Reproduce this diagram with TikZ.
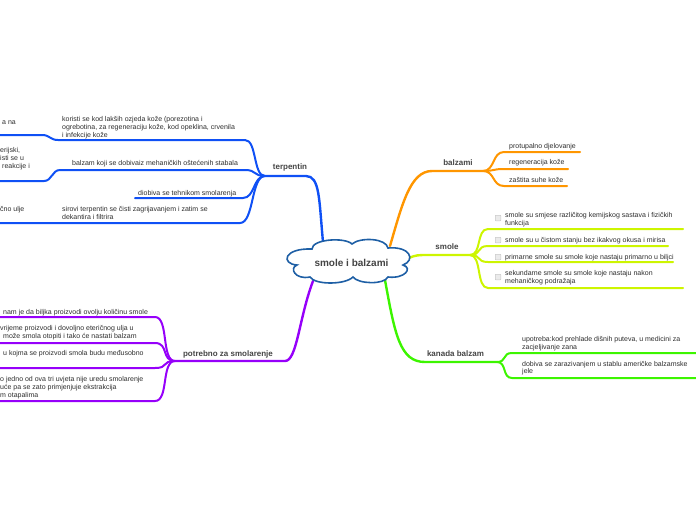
\documentclass[tikz,border=0pt]{standalone}
\usepackage{fontspec}
\setmainfont{Liberation Sans}
\definecolor{cblue}{RGB}{15,80,245}
\definecolor{cpurple}{RGB}{150,0,250}
\definecolor{corange}{RGB}{255,150,0}
\definecolor{cyellow}{RGB}{205,245,0}
\definecolor{cgreen}{RGB}{60,245,0}
\definecolor{ccloud}{RGB}{30,95,165}
\definecolor{ctext}{RGB}{45,45,45}
\definecolor{ctopic}{RGB}{68,68,68}
\begin{document}
\begin{tikzpicture}[x=1pt,y=-1pt,
  leaf/.style={font=\fontsize{7}{7.8}\selectfont, text=ctext, inner sep=0pt, anchor=base west, align=left},
  topic/.style={font=\bfseries\fontsize{8}{9.6}\selectfont, text=ctopic, inner sep=0pt, anchor=base},
  mainline/.style={line width=2.4pt, line cap=round},
  subline/.style={line width=2pt, line cap=round},
  cbox/.style={draw=black!22, fill=black!8, line width=0.5pt, minimum size=5.5pt, inner sep=0pt, rounded corners=0.5pt}
]
\useasboundingbox (0,0) rectangle (696,520);
\clip (0,0) rectangle (696,520);

% ---------- coordinates ----------
\coordinate (tA) at (323,242);
\coordinate (tE) at (306,176);
\coordinate (tJ) at (265,176);
\coordinate (pA) at (313,281);
\coordinate (pE) at (285,361);
\coordinate (pJ) at (175,361);
\coordinate (bA) at (390,246);
\coordinate (bE) at (432,171);
\coordinate (bJ) at (483,171);
\coordinate (sA) at (409,258);
\coordinate (sE) at (428,255);
\coordinate (sJ) at (470,255);
\coordinate (kA) at (385,280);
\coordinate (kE) at (425,362);
\coordinate (kJ) at (497,362);

% ---------- terpentin ----------
\draw[cblue, mainline] (tA) .. controls (319,200) and (320,176) .. (tE) -- (tJ);
\draw[cblue, subline] (tJ) .. controls +(-12,0) and +(12,0) .. (245,140) -- (58,140)
   .. controls +(-8,0) and +(8,0) .. (42,135) -- (-5,135);
\draw[cblue, subline] (tJ) .. controls +(-12,0) and +(12,0) .. (245,170) -- (60,170)
   .. controls +(-8,0) and +(8,0) .. (44,181) -- (-5,181);
\draw[cblue, subline] (tJ) .. controls +(-12,0) and +(12,0) .. (243,198) -- (135,198);
\draw[cblue, subline] (tJ) .. controls +(-14,0) and +(14,0) .. (240,223) -- (-5,223);

% ---------- potrebno za smolarenje ----------
\draw[cpurple, mainline] (pA) .. controls (299,318) and (297,361) .. (pE) -- (pJ);
\draw[cpurple, subline] (pJ) .. controls +(-14,0) and +(14,0) .. (155,317) -- (-5,317);
\draw[cpurple, subline] (pJ) .. controls +(-14,0) and +(14,0) .. (155,343) -- (-5,343);
\draw[cpurple, subline] (pJ) .. controls +(-14,0) and +(14,0) .. (155,368) -- (-5,368);
\draw[cpurple, subline] (pJ) .. controls +(-14,0) and +(14,0) .. (155,401) -- (-5,401);

% ---------- balzami ----------
\draw[corange, mainline] (bA) .. controls (402,205) and (410,171) .. (bE) -- (bJ);
\draw[corange, subline] (bJ) .. controls +(12,0) and +(-12,0) .. (504,152) -- (580,152);
\draw[corange, subline] (bJ) .. controls +(12,0) and +(-12,0) .. (504,169) -- (568,169);
\draw[corange, subline] (bJ) .. controls +(12,0) and +(-12,0) .. (504,186) -- (567,186);

% ---------- smole ----------
\draw[cyellow, mainline] (sA) .. controls (416,255) and (418,255) .. (sE) -- (sJ);
\draw[cyellow, subline] (sJ) .. controls +(12,0) and +(-12,0) .. (488,229) -- (683,229);
\draw[cyellow, subline] (sJ) .. controls +(12,0) and +(-12,0) .. (488,246) -- (668,246);
\draw[cyellow, subline] (sJ) .. controls +(12,0) and +(-12,0) .. (488,262) -- (673,262);
\draw[cyellow, subline] (sJ) .. controls +(12,0) and +(-12,0) .. (488,288) -- (683,288);

% ---------- kanada balzam ----------
\draw[cgreen, mainline] (kA) .. controls (395,335) and (400,362) .. (kE) -- (kJ);
\draw[cgreen, subline] (kJ) .. controls +(10,0) and +(-10,0) .. (512,353) -- (700,353);
\draw[cgreen, subline] (kJ) .. controls +(10,0) and +(-10,0) .. (512,378) -- (700,378);

% ---------- central cloud ----------
\draw[ccloud, line width=1.6pt, fill=white]
  (297,265) .. controls (281,264) and (283,248) .. (312,249)
  .. controls (312,239) and (345,237) .. (352,244)
  .. controls (360,237) and (386,238) .. (388,248)
  .. controls (410,246) and (416,260) .. (403,265)
  .. controls (413,268) and (405,279) .. (388,277)
  .. controls (384,285) and (358,284) .. (353,277)
  .. controls (345,285) and (315,285) .. (310,277)
  .. controls (295,280) and (289,268) .. (297,265) -- cycle;
\node[font=\bfseries\fontsize{10}{12}\selectfont, text=ctopic, inner sep=0pt] (center) at (351.5,262.5) {smole i balzami};

% ---------- topics ----------
\node[topic] (terp) at (290,169.5) {terpentin};
\node[topic] (potr) at (228,356.5) {potrebno za smolarenje};
\node[topic] (balz) at (458,165.5) {balzami};
\node[topic] (smole) at (447,249.5) {smole};
\node[topic] (kanada) at (455.5,356.5) {kanada balzam};

% ---------- terpentin leaves (base = last line) ----------
\node[leaf] (t1) at (62,137.1) {koristi se kod lakših ozjeda kože (porezotina i\\ogrebotina, za regeneraciju kože, kod opeklina, crvenila\\i infekcije kože};
\node[leaf] (t2) at (72,165.5) {balzam koji se dobivaiz mehaničkih oštećenih stabala};
\node[leaf] (t3) at (138,195.5) {diobiva se tehnikom smolarenja};
\node[leaf] (t4) at (62,219.3) {sirovi terpentin se čisti zagrijavanjem i zatim se\\dekantira i filtrira};
\node[leaf] (f1) at (2,124.5) {a na};
\node[leaf] (f2a) at (0,152.5) {erijski,};
\node[leaf] (f2b) at (0,160.3) {isti se u};
\node[leaf] (f2c) at (2,168.1) {reakcije i};
\node[leaf] (f3) at (0,211.5) {čno ulje};

% ---------- potrebno leaves ----------
\node[leaf] (p1) at (3,314.5) {nam je da biljka proizvodi ovolju količinu smole};
\node[leaf] (p2a) at (0,330.5) {vrijeme proizvodi i dovoljno eteričnog ulja u};
\node[leaf] (p2b) at (3,338.3) {može smola otopiti i tako će nastati balzam};
\node[leaf] (p3) at (3,355.5) {u kojma se proizvodi smola budu međusobno};
\node[leaf] (p4a) at (0,381.5) {o jedno od ova tri uvjeta nije uredu smolarenje};
\node[leaf] (p4b) at (0,389.3) {uće pa se zato primjenjuje ekstrakcija};
\node[leaf] (p4c) at (0,397.1) {m otapalima};

% ---------- balzami leaves ----------
\node[leaf] (b1) at (509,148.5) {protupalno djelovanje};
\node[leaf] (b2) at (509,164.5) {regeneracija kože};
\node[leaf] (b3) at (509,182.5) {zaštita suhe kože};

% ---------- smole leaves ----------
\node[cbox] (cb1) at (498,218) {};
\node[cbox] (cb2) at (498,240) {};
\node[cbox] (cb3) at (498,257) {};
\node[cbox] (cb4) at (498,277) {};
\node[leaf] (s1) at (505,225.3) {smole su smjese različitog kemijskog sastava i fizičkih\\funkcija};
\node[leaf] (s2) at (505,242.5) {smole su u čistom stanju bez ikakvog okusa i mirisa};
\node[leaf] (s3) at (505,259.5) {primarne smole su smole koje nastaju primarno u biljci};
\node[leaf] (s4) at (505,283.3) {sekundarne smole su smole koje nastaju nakon\\mehaničkog podražaja};

% ---------- kanada leaves ----------
\node[leaf] (k1) at (522,349.3) {upotreba:kod prehlade dišnih puteva, u medicini za\\zacjeljivanje zana};
\node[leaf] (k2) at (522,373.8) {dobiva se zarazivanjem u stablu američke balzamske\\jele};
\end{tikzpicture}
\end{document}
